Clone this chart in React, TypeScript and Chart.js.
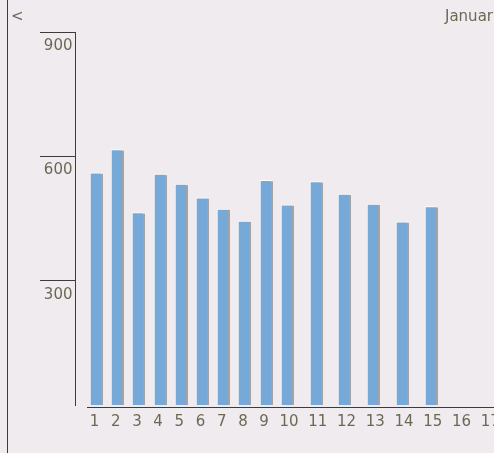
import React, { useEffect, useRef } from 'react';
import { Chart, registerables, CategoryScale } from 'chart.js';

Chart.register(...registerables);

// ---- data ----
const categories = ['1', '2', '3', '4', '5', '6', '7', '8', '9', '10', '11', '12', '13', '14', '15', '16', '17'];
const visits = [560, 616, 464, 557, 533, 500, 473, 444, 542, 483, 539, 509, 485, 442, 479];
const yTicks = [300, 600, 900];
const yMin = 0;
const yMax = 900;
const headerText = 'Januar';
const backText = '<';

// ---- style ----
const FONT = 'DejaVu Sans';
const TEXT = '#6b6955';
const AXIS = '#3c3c3c';
const BG = '#efebef';
const BAR = '#76a9d8';
const SHADOW = '#a3a3a5';

// flow layout of the category axis: each slot is as wide as its label plus a gap
const SLOT_BASE = 13.65;
const SLOT_PER_CHAR = 7.55;
const SLOT_START = 8.9;
const BAR_INSET = 11.6;
const slotWidth = (label: string) => SLOT_BASE + SLOT_PER_CHAR * String(label).length;

class FlowCategoryScale extends CategoryScale {
  static id = 'flowCategory';
  static defaults = CategoryScale.defaults;
  slotLeft(index: number) {
    const labels = this.getLabels();
    let x = this.left + SLOT_START;
    for (let i = 0; i < index; i++) x += slotWidth(labels[i]);
    return x;
  }
  getPixelForValue(value: any) {
    if (typeof value !== 'number') value = this.parse(value);
    if (value === null || value === undefined || isNaN(value)) return NaN;
    return Math.round(this.slotLeft(value) + BAR_INSET - 0.5) + 0.5;
  }
  getPixelForTick(index: number) {
    const ticks = this.ticks;
    if (index < 0 || index > ticks.length - 1) return null as any;
    const v = ticks[index].value;
    return this.slotLeft(v) + slotWidth(this.getLabels()[v]) / 2;
  }
}
Chart.register(FlowCategoryScale as any);

const framePlugin = {
  id: 'frame',
  beforeDatasetsDraw(chart: any) {
    const ctx = chart.ctx;
    const meta = chart.getDatasetMeta(0);
    ctx.save();
    ctx.fillStyle = SHADOW;
    meta.data.forEach((el: any) => {
      const p = el.getProps(['x', 'y', 'base', 'width'], true);
      ctx.fillRect(p.x - p.width / 2 + 2, p.y + 1, p.width, p.base - p.y - 1);
    });
    ctx.restore();
  },
  afterDraw(chart: any) {
    const ctx = chart.ctx;
    const a = chart.chartArea;
    ctx.save();
    ctx.fillStyle = AXIS;
    ctx.fillRect(7, 0, 1, chart.height);
    ctx.fillRect(a.left + 12, a.bottom + 2, a.right - a.left, 1);
    ctx.fillStyle = TEXT;
    ctx.font = `15px "${FONT}"`;
    ctx.textBaseline = 'middle';
    ctx.textAlign = 'left';
    ctx.fillText(backText, 11, 17);
    ctx.fillText(headerText, 445, 17);
    ctx.restore();
  },
};

export default function App() {
  const ref = useRef<HTMLCanvasElement>(null);
  useEffect(() => {
    const canvas = ref.current!;
    const chart = new Chart(canvas, {
      type: 'bar',
      data: {
        labels: categories,
        datasets: [
          {
            data: visits,
            backgroundColor: BAR,
            borderColor: '#ffffff',
            borderWidth: { top: 1, left: 1, right: 0, bottom: 0 } as any,
            borderSkipped: false,
            barThickness: 11,
          },
        ],
      },
      options: {
        responsive: false,
        animation: false,
        devicePixelRatio: 1,
        events: [],
        layout: { padding: { left: 7, top: 32, right: 0, bottom: 0 } },
        plugins: { legend: { display: false }, tooltip: { enabled: false }, title: { display: false } },
        scales: {
          x: {
            type: 'flowCategory' as any,
            grid: { display: false, drawTicks: false },
            border: { display: false },
            ticks: {
              autoSkip: false,
              maxRotation: 0,
              minRotation: 0,
              padding: 8,
              color: TEXT,
              font: { family: FONT, size: 15 },
            },
            afterFit: (s: any) => {
              s.height = 48;
            },
          } as any,
          y: {
            min: yMin,
            max: yMax,
            afterBuildTicks: (s: any) => {
              s.ticks = yTicks.map((v) => ({ value: v }));
            },
            grid: { drawOnChartArea: false, drawTicks: true, tickLength: 35, color: AXIS, lineWidth: 1 },
            border: { display: true, color: AXIS, width: 1 },
            ticks: {
              padding: -32.5,
              labelOffset: 14,
              color: TEXT,
              font: { family: FONT, size: 15 },
            },
            afterFit: (s: any) => {
              s.width = 68;
            },
          },
        },
      },
      plugins: [framePlugin],
    });
    return () => chart.destroy();
  }, []);
  return (
    <div
      style={{
        position: 'fixed',
        left: 0,
        top: 0,
        width: 494,
        height: 453,
        overflow: 'hidden',
        background: BG,
      }}
    >
      <canvas ref={ref} width={560} height={453} style={{ display: 'block' }} />
    </div>
  );
}
